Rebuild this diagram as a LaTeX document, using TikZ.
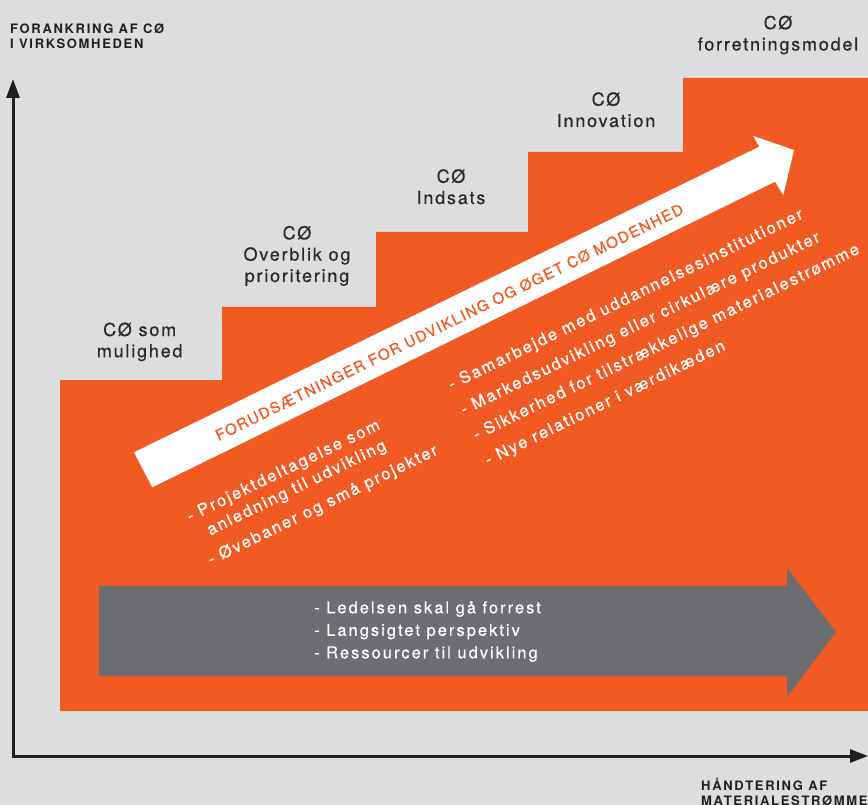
\documentclass[tikz,border=0pt]{standalone}
\usepackage{fontspec}
\setmainfont{TeX Gyre Heros}[LetterSpace=13]
\newfontfamily\medfont{TeX Gyre Heros}[LetterSpace=10, FakeBold=0.5]
\newfontfamily\wfont{TeX Gyre Heros}[LetterSpace=12.5, FakeBold=0.5]
\usetikzlibrary{arrows.meta}
\definecolor{bgc}{HTML}{DCDDDF}
\definecolor{orc}{HTML}{F15A22}
\definecolor{grc}{HTML}{6D6E71}
\definecolor{txc}{HTML}{2B2A2B}
\definecolor{axc}{HTML}{231F20}
\tikzset{
  steplbl/.style={font=\medfont\fontsize{18}{21.3}\selectfont, text=txc, align=center, anchor=base, inner sep=0pt},
  axlbl/.style={font=\bfseries\fontsize{13}{15.5}\selectfont, text=axc, align=left, anchor=base west, inner sep=0pt},
  wtxt/.style={font=\wfont\fontsize{16.4}{22.5}\selectfont, text=white, align=left, anchor=base west, inner sep=0pt},
  bandtxt/.style={font=\medfont\fontsize{15}{17}\selectfont, text=orc, anchor=base, inner sep=0pt},
  axisline/.style={line width=3pt, draw=axc, line join=miter,
    {Triangle[length=19pt,width=13pt]}-{Triangle[length=18pt,width=13pt]}}
}
\begin{document}
\begin{tikzpicture}[x=1pt,y=-1pt]
\useasboundingbox (0,0) rectangle (868,805);
\fill[bgc] (0,0) rectangle (868,805);
% staircase
\fill[orc] (60,711) -- (60,380) -- (222,380) -- (222,307) -- (376,307) -- (376,232)
  -- (528,232) -- (528,152) -- (683,152) -- (683,78) -- (868,78) -- (868,711) -- cycle;
% axes
\coordinate (O) at (13,756);
\coordinate (Ytip) at (13,79);
\coordinate (Xtip) at (868,756);
\draw[axisline] (Ytip) -- (O) -- (Xtip);
% multi-line nodes: base anchor = baseline of last line
\node[axlbl] (ylabel) at (10,49) {FORANKRING AF CØ\\I VIRKSOMHEDEN};
\node[axlbl] (xlabel) at (701,805.5) {HÅNDTERING AF\\MATERIALESTRØMME};
% step labels
\node[steplbl] (s1) at (139.7,357.3) {CØ som\\mulighed};
\node[steplbl] (s2) at (297,282) {CØ\\Overblik og\\prioritering};
\node[steplbl] (s3) at (451,204) {CØ\\Indsats};
\node[steplbl] (s4) at (606,127) {CØ\\Innovation};
\node[steplbl] (s5) at (778,50.5) {CØ\\forretningsmodel};
% white diagonal arrow
\fill[white] (134,452.3) -- (759.3,146.7) -- (753.3,136) -- (794,150) -- (783.3,195)
  -- (775,181.7) -- (152.3,487.3) -- cycle;
\node[bandtxt, rotate=26.1] (band) at (451.7,327) {FORUDSÆTNINGER FOR UDVIKLING OG ØGET CØ MODENHED};
% right bullet block
\begin{scope}[shift={(451.5,390)}, rotate=26, transform shape]
  \node[wtxt] (r1) at (0,0) {- Samarbejde med uddannelsesinstitutioner};
  \node[wtxt] (r2) at (0,28) {- Markedsudvikling eller cirkulære produkter};
  \node[wtxt] (r3) at (0,56) {- Sikkerhed for tilstrækkelige materialestrømme};
  \node[wtxt] (r4) at (0,84) {- Nye relationer i værdikæden};
\end{scope}
% left bullet block
\begin{scope}[shift={(190,522)}, rotate=26, transform shape]
  \node[wtxt] (l1) at (0,0) {- Projektdeltagelse som};
  \node[wtxt] (l2) at (0,21) {\phantom{- }anledning til udvikling};
  \node[wtxt] (l3) at (0,48) {- Øvebaner og små projekter};
\end{scope}
% gray arrow
\fill[grc] (99,586) -- (787,586) -- (787,568) -- (836,632) -- (787,697) -- (787,676) -- (99,676) -- cycle;
\node[wtxt] (g1) at (314,613.3) {- Ledelsen skal gå forrest};
\node[wtxt] (g2) at (314,635.8) {- Langsigtet perspektiv};
\node[wtxt] (g3) at (314,658.3) {- Ressourcer til udvikling};
\end{tikzpicture}
\end{document}
